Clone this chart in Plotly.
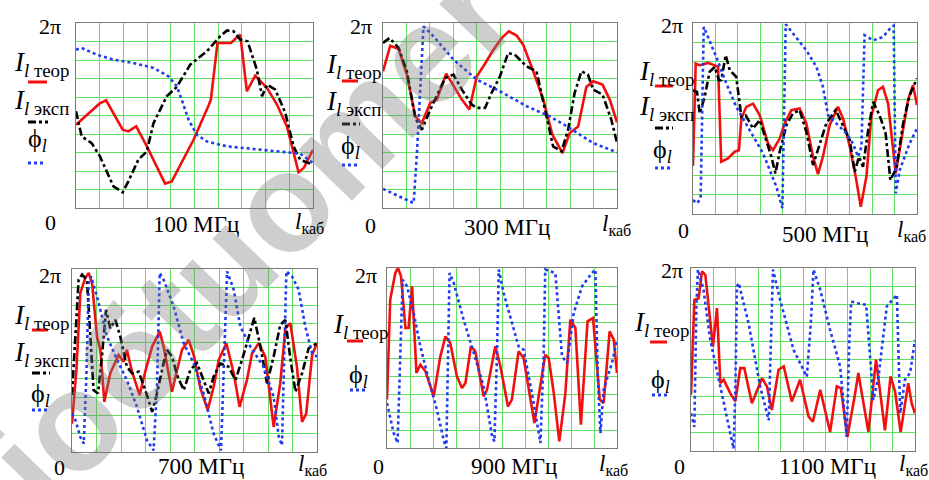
import numpy as np
import plotly.graph_objects as go

W, H = 929, 480
TWO_PI = 2 * np.pi

# ---- data: x in grid units of cable length (0..10), y in tenths of 2π (0..10) ----
p1_teor_x = [0, 0.99, 1.27, 1.97, 2.21, 2.54, 2.99, 3.76, 4.04, 4.96, 5.59, 5.69, 5.97, 6.54, 6.76, 6.93, 7.21, 7.56, 8.06, 8.48, 8.9, 9.39, 9.61, 10]
p1_teor_y = [4.5, 5.64, 5.82, 4.23, 4.14, 4.41, 3.33, 1.32, 1.44, 3.69, 5.53, 5.86, 8.92, 8.92, 9.19, 9.37, 6.31, 7.15, 6.49, 5.59, 4.41, 1.93, 2.16, 3.15]
p1_eksp_x = [0, 0.24, 0.66, 1.01, 1.58, 1.97, 2.21, 2.63, 2.99, 3.27, 3.83, 4.25, 4.82, 5.52, 6.08, 6.37, 6.65, 6.93, 7.24, 7.63, 7.85, 8.06, 8.41, 8.83, 9.18, 9.46, 10]
p1_eksp_y = [5.23, 3.87, 3.51, 2.79, 1.17, 0.85, 1.44, 2.61, 3.06, 4.59, 6.04, 6.54, 7.75, 8.47, 9.28, 9.6, 9.55, 9.1, 9.01, 7.48, 6.04, 6.67, 6.40, 5.14, 3.33, 2.61, 2.34]
p1_phi_x = [0, 0.24, 0.87, 1.58, 2.42, 3.27, 3.9, 4.25, 4.46, 4.75, 5.1, 5.52, 6.37, 7.49, 8.76, 9.46, 10]
p1_phi_y = [8.56, 8.65, 8.29, 8.02, 7.84, 7.57, 7.12, 6.58, 5.86, 4.77, 3.96, 3.6, 3.33, 3.19, 3.06, 2.94, 2.43]

p2_teor_x = [0, 0.31, 0.67, 1.02, 1.38, 1.66, 2.02, 2.3, 2.7, 3.01, 3.37, 3.69, 4.01, 4.29, 4.72, 5.07, 5.38, 5.71, 5.99, 6.42, 6.85, 7.24, 7.67, 7.98, 8.34, 8.69, 8.98, 9.38, 9.69, 10]
p2_teor_y = [7.39, 8.77, 8.59, 7.21, 4.95, 4.59, 5.68, 5.86, 7.26, 6.58, 5.86, 5.32, 7.12, 7.66, 8.56, 9.19, 9.55, 9.32, 8.83, 7.39, 5.86, 3.96, 2.97, 4.05, 4.41, 6.54, 6.85, 6.67, 5.86, 4.63]
p2_eksp_x = [0, 0.28, 0.67, 1.02, 1.38, 1.66, 2.02, 2.37, 2.66, 3.01, 3.37, 3.79, 4.01, 4.36, 4.64, 5.0, 5.35, 5.63, 6.13, 6.56, 6.92, 7.27, 7.63, 7.91, 8.19, 8.48, 8.76, 8.98, 9.38, 9.76, 10]
p2_eksp_y = [8.92, 9.19, 8.65, 7.39, 4.86, 4.23, 5.32, 6.22, 7.03, 7.21, 6.40, 5.59, 5.41, 5.41, 6.22, 7.12, 8.38, 8.29, 7.66, 7.39, 5.32, 3.33, 3.06, 4.23, 6.22, 7.39, 7.21, 6.40, 6.13, 4.77, 3.51]
p2_phi_x = [0, 0.67, 1.31, 1.45, 1.59, 1.73, 2.16, 3.01, 4.01, 5.0, 6.14, 7.13, 7.98, 8.98, 10]
p2_phi_y = [1.03, 0.63, 0.27, 2.97, 6.76, 9.82, 9.28, 8.02, 6.94, 6.31, 5.50, 4.95, 4.32, 3.51, 3.01]

p3_teor_x = [0, 0.12, 0.3, 0.67, 0.89, 1.12, 1.26, 1.56, 1.86, 2.05, 2.16, 2.38, 2.68, 2.98, 3.35, 3.57, 3.87, 4.09, 4.39, 4.76, 5.06, 5.36, 5.58, 5.8, 6.1, 6.47, 6.7, 7.0, 7.29, 7.49, 7.74, 7.96, 8.26, 8.48, 8.71, 8.9, 9.05, 9.3, 9.6, 9.82, 10]
p3_teor_y = [2.51, 7.87, 7.79, 7.91, 7.82, 7.70, 2.74, 2.91, 3.26, 3.34, 5.0, 5.61, 5.78, 5.17, 3.69, 3.34, 3.95, 4.74, 5.44, 5.52, 4.74, 3.0, 2.09, 3.0, 4.65, 5.61, 5.0, 3.52, 1.78, 0.38, 1.95, 5.09, 6.48, 6.66, 5.78, 3.52, 2.13, 3.87, 5.96, 6.74, 5.71]
p3_eksp_x = [0, 0.18, 0.3, 0.52, 0.74, 0.97, 1.16, 1.26, 1.46, 1.64, 1.93, 2.16, 2.35, 2.68, 2.98, 3.27, 3.5, 3.68, 3.87, 4.17, 4.46, 4.76, 5.06, 5.36, 5.65, 5.95, 6.37, 6.7, 7.0, 7.22, 7.41, 7.59, 7.81, 8.04, 8.33, 8.6, 8.81, 9.08, 9.38, 9.67, 10]
p3_eksp_y = [6.48, 6.39, 5.26, 6.13, 7.44, 7.70, 7.0, 7.0, 8.31, 7.53, 7.18, 5.09, 5.17, 4.48, 4.92, 3.87, 3.0, 2.13, 3.26, 4.65, 5.26, 5.44, 4.30, 2.56, 3.61, 4.74, 5.44, 4.57, 3.87, 2.21, 3.0, 2.47, 4.30, 5.87, 5.17, 4.22, 1.78, 2.39, 4.74, 6.22, 7.09]
p3_phi_x = [0, 0.18, 0.34, 0.48, 0.67, 1.04, 1.49, 1.93, 2.53, 3.13, 3.72, 3.99, 4.14, 4.46, 5.06, 5.51, 5.8, 6.03, 6.4, 6.85, 7.14, 7.37, 7.52, 7.66, 8.04, 8.48, 8.85, 8.96, 9.05, 9.23, 9.67, 10]
p3_phi_y = [0.73, 0.56, 0.82, 9.79, 9.27, 8.22, 6.83, 5.61, 4.39, 3.17, 1.43, 0.30, 9.93, 9.44, 8.57, 7.70, 6.66, 5.17, 4.74, 4.22, 3.69, 3.0, 3.52, 9.36, 9.09, 9.27, 9.79, 9.86, 1.08, 2.3, 3.69, 4.48]

p4_teor_x = [0, 0.18, 0.34, 0.54, 0.68, 0.82, 1.02, 1.16, 1.32, 1.56, 1.9, 2.11, 2.24, 2.45, 2.76, 2.99, 3.27, 3.58, 3.74, 4.08, 4.29, 4.49, 4.76, 4.97, 5.24, 5.54, 5.78, 5.99, 6.3, 6.6, 6.84, 7.14, 7.35, 7.62, 7.89, 8.23, 8.5, 8.71, 8.91, 9.18, 9.39, 9.56, 9.8, 10]
p4_teor_y = [1.55, 4.48, 8.68, 9.51, 9.78, 9.23, 6.31, 5.58, 2.74, 4.30, 5.30, 4.94, 5.58, 4.39, 3.11, 4.39, 5.76, 6.58, 5.76, 3.29, 4.48, 5.58, 6.12, 5.30, 3.47, 2.29, 3.56, 5.03, 5.94, 4.30, 2.47, 3.93, 5.39, 5.94, 5.21, 1.37, 3.75, 6.76, 7.04, 4.66, 1.65, 2.1, 5.30, 5.94]
p4_eksp_x = [0, 0.14, 0.27, 0.41, 0.61, 0.75, 0.88, 1.06, 1.22, 1.39, 1.56, 1.77, 1.97, 2.24, 2.45, 2.72, 3.06, 3.27, 3.47, 3.74, 3.88, 4.08, 4.29, 4.56, 4.83, 5.1, 5.37, 5.58, 5.78, 6.05, 6.39, 6.67, 6.94, 7.21, 7.44, 7.69, 7.96, 8.23, 8.5, 8.71, 8.91, 9.12, 9.39, 9.66, 10]
p4_eksp_y = [3.11, 6.12, 9.41, 9.69, 9.41, 6.31, 3.38, 3.2, 5.21, 7.77, 6.76, 7.22, 6.31, 4.66, 4.30, 4.39, 3.11, 2.19, 3.2, 4.86, 5.58, 5.21, 4.20, 3.38, 4.48, 4.86, 3.93, 3.2, 4.11, 4.84, 4.66, 3.93, 5.03, 6.31, 7.33, 5.76, 3.75, 5.21, 6.95, 7.22, 5.12, 3.29, 4.30, 5.67, 5.94]
p4_phi_x = [0, 0.14, 0.34, 0.48, 0.59, 0.68, 0.78, 1.02, 1.43, 1.84, 2.24, 2.65, 3.06, 3.33, 3.47, 3.58, 3.74, 4.15, 4.56, 4.97, 5.37, 5.78, 6.08, 6.22, 6.33, 6.6, 6.87, 7.28, 7.82, 8.23, 8.44, 8.57, 8.67, 8.75, 8.98, 9.25, 9.52, 9.8, 10]
p4_phi_y = [2.1, 1.74, 0.82, 0.46, 4.30, 9.23, 9.6, 8.50, 6.31, 5.03, 3.93, 2.47, 0.64, 0.09, 3.56, 9.78, 9.41, 7.95, 5.94, 4.84, 3.2, 1.01, 0.09, 5.21, 9.87, 8.87, 6.86, 5.76, 4.66, 3.02, 0.82, 0.37, 6.12, 9.87, 9.6, 8.87, 6.86, 5.39, 5.21]

p5_teor_x = [0, 0.14, 0.36, 0.48, 0.61, 0.8, 0.94, 1.09, 1.28, 1.45, 1.67, 2.03, 2.32, 2.54, 2.75, 3.04, 3.26, 3.41, 3.65, 3.84, 4.2, 4.35, 4.71, 4.93, 5.26, 5.43, 5.72, 5.94, 6.41, 6.67, 6.88, 7.03, 7.25, 7.49, 7.75, 7.97, 8.19, 8.43, 8.72, 8.96, 9.25, 9.42, 9.68, 9.86, 10]
p5_teor_y = [2.69, 8.24, 9.72, 10.0, 9.54, 6.67, 6.67, 8.98, 4.17, 4.63, 4.26, 2.87, 5.09, 6.2, 5.83, 3.98, 3.33, 3.61, 5.65, 5.37, 2.87, 3.24, 5.65, 4.54, 2.31, 2.69, 5.37, 5.0, 1.39, 3.61, 5.19, 5.0, 3.06, 0.37, 2.96, 7.13, 6.67, 1.30, 7.04, 7.22, 2.69, 2.5, 6.48, 6.02, 4.17]
p5_phi_x = [0, 0.14, 0.29, 0.46, 0.58, 0.68, 0.87, 1.16, 1.45, 1.81, 2.17, 2.46, 2.58, 2.65, 2.72, 2.9, 3.33, 3.77, 4.2, 4.57, 4.67, 4.78, 4.86, 5.07, 5.51, 5.72, 5.94, 6.3, 6.67, 6.81, 6.88, 7.32, 7.61, 7.83, 8.12, 8.48, 8.91, 9.06, 9.16, 9.28, 9.42, 9.78, 10]
p5_phi_y = [2.5, 1.76, 0.83, 0.28, 6.02, 9.35, 8.98, 7.5, 5.65, 3.8, 2.13, 0.46, 0.0, 4.17, 9.72, 9.17, 7.13, 5.28, 3.43, 0.65, 0.37, 5.09, 9.91, 8.61, 6.57, 5.65, 5.46, 3.06, 0.28, 5.09, 9.91, 9.72, 5.09, 4.72, 7.5, 8.98, 9.72, 9.91, 4.17, 0.83, 3.24, 4.72, 6.02]

p6_teor_x = [0, 0.15, 0.34, 0.49, 0.64, 0.86, 0.98, 1.16, 1.31, 1.46, 1.75, 1.98, 2.2, 2.38, 2.72, 3.17, 3.39, 3.61, 3.91, 4.14, 4.5, 4.87, 5.25, 5.44, 5.77, 6.21, 6.51, 6.69, 6.98, 7.33, 7.47, 7.92, 8.26, 8.66, 8.91, 9.11, 9.36, 9.7, 9.85, 10]
p6_teor_y = [3.07, 8.26, 8.35, 9.82, 9.63, 6.98, 5.70, 7.81, 3.71, 3.89, 3.16, 2.71, 4.53, 4.53, 2.61, 3.98, 3.53, 2.24, 4.44, 4.62, 2.71, 3.89, 1.88, 1.60, 3.34, 1.04, 3.53, 3.44, 0.77, 3.16, 4.26, 1.04, 4.99, 1.13, 4.08, 3.25, 1.04, 3.71, 2.61, 2.06]
p6_phi_x = [0, 0.15, 0.24, 0.31, 0.56, 0.86, 1.31, 1.6, 1.9, 1.98, 2.05, 2.13, 2.57, 3.09, 3.47, 3.57, 3.66, 3.98, 4.58, 4.95, 5.17, 5.35, 5.47, 5.77, 6.21, 6.66, 6.95, 7.07, 7.15, 7.4, 7.82, 8.14, 8.37, 8.74, 9.01, 9.19, 9.34, 9.55, 9.78, 10]
p6_phi_y = [2.06, 1.32, 7.90, 9.91, 8.81, 6.07, 3.51, 1.86, 0.13, 3.34, 8.99, 9.18, 6.98, 3.51, 1.68, 6.07, 9.91, 8.26, 5.52, 4.61, 4.06, 6.98, 9.91, 8.81, 6.62, 4.61, 0.77, 6.07, 8.17, 8.08, 7.99, 2.79, 4.06, 7.90, 8.26, 8.54, 2.06, 3.89, 4.26, 6.07]

freq_labels = ["100 МГц", "300 МГц", "500 МГц", "700 МГц", "900 МГц", "1100 МГц"]
top_tick = "2π"
bottom_tick = "0"
x_label = "<i>l</i><sub>каб</sub>"
name_teor = "<i>I</i><sub><i>l</i> теор</sub>"
name_eksp = "<i>I</i><sub><i>l</i> эксп</sub>"
name_phi = "ϕ<sub><i>l</i></sub>"
watermark = "<b>ioбtuomer</b>"

panels = [
    dict(teor=(p1_teor_x, p1_teor_y), eksp=(p1_eksp_x, p1_eksp_y), phi=(p1_phi_x, p1_phi_y)),
    dict(teor=(p2_teor_x, p2_teor_y), eksp=(p2_eksp_x, p2_eksp_y), phi=(p2_phi_x, p2_phi_y)),
    dict(teor=(p3_teor_x, p3_teor_y), eksp=(p3_eksp_x, p3_eksp_y), phi=(p3_phi_x, p3_phi_y)),
    dict(teor=(p4_teor_x, p4_teor_y), eksp=(p4_eksp_x, p4_eksp_y), phi=(p4_phi_x, p4_phi_y)),
    dict(teor=(p5_teor_x, p5_teor_y), eksp=None, phi=(p5_phi_x, p5_phi_y)),
    dict(teor=(p6_teor_x, p6_teor_y), eksp=None, phi=(p6_phi_x, p6_phi_y)),
]

# ---- layout (pixel boxes) ----
boxes = [  # left, right, top, bottom in px
    (76, 313, 23, 208),
    (383, 617, 23, 208),
    (693, 917, 23, 214),
    (72, 317, 269, 452),
    (387, 617, 268, 448),
    (691, 915, 268, 451),
]
label_pos = [
    dict(top=(50, 26), zero=(50, 222), freq=(196, 224), lk=(293, 223)),
    dict(top=(361, 26), zero=(370, 225), freq=(507, 227), lk=(600, 225)),
    dict(top=(672, 25), zero=(683, 230), freq=(825, 234), lk=(895, 231)),
    dict(top=(50, 275), zero=(59, 467), freq=(201, 466), lk=(296, 465)),
    dict(top=(366, 275), zero=(378, 466), freq=(514, 466), lk=(597, 465)),
    dict(top=(672, 270), zero=(679, 466), freq=(827, 466), lk=(897, 465)),
]
legend_pos = [
    dict(teor=(12, 64, 28, 47, 82), eksp=(12, 102, 28, 48, 122), phi=(26, 140, 28, 45, 163)),
    dict(teor=(324, 66, 342, 358, 81), eksp=(324, 103, 342, 360, 124), phi=(339, 147, 342, 358, 165)),
    dict(teor=(637, 73, 655, 673, 86), eksp=(637, 108, 655, 673, 128), phi=(651, 151, 655, 672, 168)),
    dict(teor=(12, 317, 32, 48, 330), eksp=(12, 354, 32, 50, 373), phi=(29, 395, 32, 48, 410)),
    dict(teor=(331, 326, 347, 363, 341), eksp=None, phi=(347, 376, 350, 367, 390)),
    dict(teor=(632, 324, 650, 667, 342), eksp=None, phi=(649, 381, 652, 668, 395)),
]

def px(x):
    return x / W

def py(y):
    return 1 - y / H

RED = "#f01010"
BLACK = "#000000"
BLUE = "#1f3cf0"
GRID = "#62e062"
FRAME = "#7a7a7a"
SERIF = "Liberation Serif"
DASHDOT = "8px,3px,3px,3px"
DOT = "3px,3px"

fig = go.Figure()
layout = dict(
    width=W, height=H, autosize=False,
    margin=dict(l=0, r=0, t=0, b=0),
    paper_bgcolor="white", plot_bgcolor="white",
    showlegend=False,
)

annotations = []
shapes = []

# faint diagonal watermark as in the source picture (drawn first)
annotations.append(dict(x=px(250), y=py(236), xref="paper", yref="paper",
                        text=watermark, showarrow=False, textangle=-46,
                        xanchor="center", yanchor="middle",
                        font=dict(family="Liberation Sans", size=140,
                                  color="rgba(120,120,120,0.36)")))

for i, (pnl, box) in enumerate(zip(panels, boxes)):
    n = "" if i == 0 else str(i + 1)
    xa, ya = "x" + n, "y" + n
    l, r, t, b = box
    layout["xaxis" + n] = dict(
        domain=[px(l), px(r)], range=[0, 10], dtick=1, tick0=0,
        showgrid=True, gridcolor=GRID, gridwidth=1, zeroline=False,
        showticklabels=False, ticks="", showline=True, linecolor=FRAME,
        linewidth=1, mirror=True, anchor=ya, fixedrange=True,
    )
    layout["yaxis" + n] = dict(
        domain=[py(b), py(t)], range=[0, TWO_PI], dtick=TWO_PI / 10, tick0=0,
        showgrid=True, gridcolor=GRID, gridwidth=1, zeroline=False,
        showticklabels=False, ticks="", showline=True, linecolor=FRAME,
        linewidth=1, mirror=True, anchor=xa, fixedrange=True,
    )
    tx, ty = pnl["teor"]
    fig.add_trace(go.Scatter(x=tx, y=np.array(ty) * TWO_PI / 10, mode="lines",
                             line=dict(color=RED, width=2.6), xaxis=xa, yaxis=ya))
    if pnl["eksp"] is not None:
        ex, ey = pnl["eksp"]
        fig.add_trace(go.Scatter(x=ex, y=np.array(ey) * TWO_PI / 10, mode="lines",
                                 line=dict(color=BLACK, width=2.6, dash=DASHDOT),
                                 xaxis=xa, yaxis=ya))
    fx, fy = pnl["phi"]
    fig.add_trace(go.Scatter(x=fx, y=np.array(fy) * TWO_PI / 10, mode="lines",
                             line=dict(color=BLUE, width=2.6, dash=DOT), xaxis=xa, yaxis=ya))

    lp = label_pos[i]
    annotations.append(dict(x=px(lp["top"][0]), y=py(lp["top"][1]), xref="paper", yref="paper",
                            text=top_tick, showarrow=False, xanchor="center", yanchor="middle",
                            font=dict(family=SERIF, size=22, color="black")))
    annotations.append(dict(x=px(lp["zero"][0]), y=py(lp["zero"][1]), xref="paper", yref="paper",
                            text=bottom_tick, showarrow=False, xanchor="center", yanchor="middle",
                            font=dict(family=SERIF, size=22, color="black")))
    annotations.append(dict(x=px(lp["freq"][0]), y=py(lp["freq"][1]), xref="paper", yref="paper",
                            text=freq_labels[i], showarrow=False, xanchor="center", yanchor="middle",
                            font=dict(family=SERIF, size=23, color="black")))
    annotations.append(dict(x=px(lp["lk"][0]), y=py(lp["lk"][1]), xref="paper", yref="paper",
                            text=x_label, showarrow=False, xanchor="left", yanchor="middle",
                            font=dict(family=SERIF, size=23, color="black")))

    lg = legend_pos[i]
    for key, txt, col, dash in (("teor", name_teor, RED, "solid"),
                                ("eksp", name_eksp, BLACK, DASHDOT),
                                ("phi", name_phi, BLUE, DOT)):
        if lg[key] is None:
            continue
        tx0, tyc, lx0, lx1, ly = lg[key]
        annotations.append(dict(x=px(tx0), y=py(tyc), xref="paper", yref="paper",
                                text=txt, showarrow=False, xanchor="left", yanchor="middle",
                                font=dict(family=SERIF, size=27 if key != "phi" else 26, color="black")))
        shapes.append(dict(type="line", xref="paper", yref="paper",
                           x0=px(lx0), x1=px(lx1), y0=py(ly), y1=py(ly),
                           line=dict(color=col, width=3, dash=dash)))

layout["annotations"] = annotations
layout["shapes"] = shapes
fig.update_layout(**layout)
fig.write_html("out.html", config={"displayModeBar": False},
               post_script="document.body.style.margin='0px';")
